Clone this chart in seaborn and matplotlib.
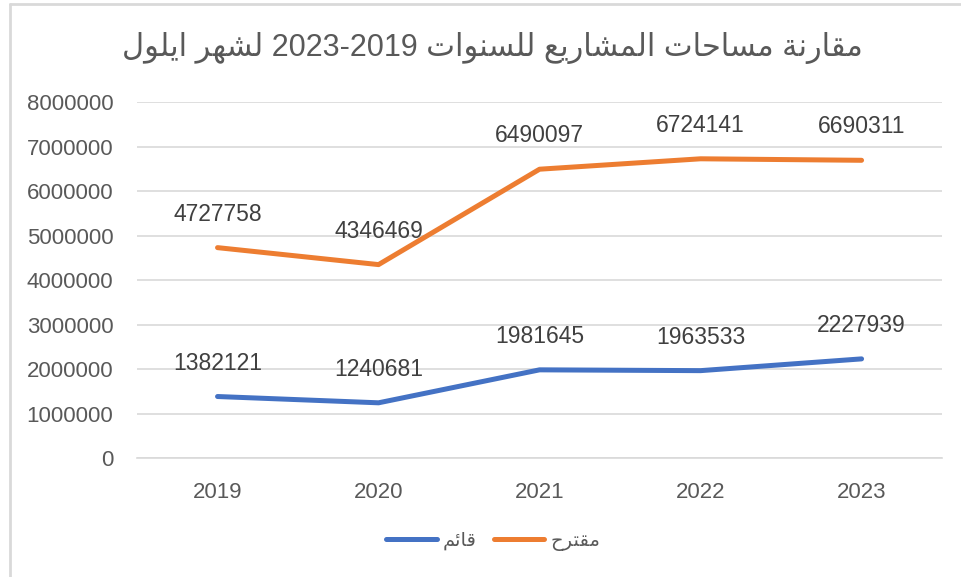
import matplotlib
matplotlib.use("Agg")
import matplotlib.pyplot as plt
import pandas as pd
import seaborn as sns
from matplotlib.lines import Line2D

# ==============================
# data
# ==============================
years = ["2019", "2020", "2021", "2022", "2023"]
existing = [1382121, 1240681, 1981645, 1963533, 2227939]
proposed = [4727758, 4346469, 6490097, 6724141, 6690311]
series_names = ["قائم", "مقترح"]
title_text = "مقارنة مساحات المشاريع للسنوات 2019-2023 لشهر ايلول"
y_ticks = [0, 1000000, 2000000, 3000000, 4000000, 5000000, 6000000, 7000000, 8000000]

# ==============================
# tiny arabic shaping (matplotlib has no bidi / shaping)
# forms: isolated, final, initial, medial
# ==============================
FORMS = {
    "ا": ("\uFE8D", "\uFE8E", None, None),
    "ة": ("\uFE93", "\uFE94", None, None),
    "ر": ("\uFEAD", "\uFEAE", None, None),
    "و": ("\uFEED", "\uFEEE", None, None),
    "ت": ("\uFE95", "\uFE96", "\uFE97", "\uFE98"),
    "ح": ("\uFEA1", "\uFEA2", "\uFEA3", "\uFEA4"),
    "س": ("\uFEB1", "\uFEB2", "\uFEB3", "\uFEB4"),
    "ش": ("\uFEB5", "\uFEB6", "\uFEB7", "\uFEB8"),
    "ع": ("\uFEC9", "\uFECA", "\uFECB", "\uFECC"),
    "ق": ("\uFED5", "\uFED6", "\uFED7", "\uFED8"),
    "ل": ("\uFEDD", "\uFEDE", "\uFEDF", "\uFEE0"),
    "م": ("\uFEE1", "\uFEE2", "\uFEE3", "\uFEE4"),
    "ن": ("\uFEE5", "\uFEE6", "\uFEE7", "\uFEE8"),
    "ه": ("\uFEE9", "\uFEEA", "\uFEEB", "\uFEEC"),
    "ي": ("\uFEF1", "\uFEF2", "\uFEF3", "\uFEF4"),
    "ئ": ("\uFE89", "\uFE8A", "\uFE8B", "\uFE8C"),
}


def dual(ch):
    return ch in FORMS and FORMS[ch][2] is not None


def shape_word(word):
    out = []
    for i, ch in enumerate(word):
        if ch not in FORMS:
            out.append(ch)
            continue
        prev_j = i > 0 and dual(word[i - 1])
        next_j = dual(ch) and i < len(word) - 1 and word[i + 1] in FORMS
        iso, fin, ini, med = FORMS[ch]
        if prev_j and next_j:
            out.append(med)
        elif prev_j:
            out.append(fin)
        elif next_j:
            out.append(ini)
        else:
            out.append(iso)
    return "".join(reversed(out))


def rtl(text):
    tokens = []
    for tok in text.split(" "):
        if any(c in FORMS for c in tok):
            tokens.append(shape_word(tok))
        else:
            # number ranges show reversed in the rtl title
            tokens.append("-".join(reversed(tok.split("-"))))
    return " ".join(reversed(tokens))


# ==============================
# frame
# ==============================
df = pd.DataFrame({
    "year": years * 2,
    "value": existing + proposed,
    "series": [rtl(series_names[0])] * 5 + [rtl(series_names[1])] * 5,
})

sns.set_theme(style="white")
plt.rcParams["font.family"] = ["Liberation Sans", "DejaVu Sans"]

fig = plt.figure(figsize=(9.61, 5.77), dpi=100)
ax = fig.add_axes([0.1426, 0.2062, 0.8377, 0.617])

colors = ["#4472C4", "#ED7D31"]
sns.lineplot(data=df, x="year", y="value", hue="series", palette=colors,
             sort=False, linewidth=3.6, ax=ax, legend=False,
             solid_capstyle="round")

# data labels
for vals in [existing, proposed]:
    for i, v in enumerate(vals):
        ax.annotate(str(v), (i, v), xytext=(0, 24), textcoords="offset points",
                    ha="center", va="center", fontsize=16.5, color="#404040")

ax.set_xlim(-0.5, 4.5)
ax.set_ylim(0, 8000000)
ax.set_yticks(y_ticks)
ax.set_yticklabels([str(t) for t in y_ticks])
ax.set_xlabel("")
ax.set_ylabel("")
ax.grid(axis="y", color="#D9D9D9", linewidth=1.2)
ax.set_axisbelow(True)
for s in ax.spines.values():
    s.set_visible(False)
ax.spines["bottom"].set_visible(True)
ax.spines["bottom"].set_color("#D9D9D9")
ax.spines["bottom"].set_linewidth(1.2)
ax.tick_params(axis="both", length=0, labelsize=16, labelcolor="#595959")
ax.tick_params(axis="y", pad=17)
ax.tick_params(axis="x", pad=17)

fig.text(0.512, 0.917, rtl(title_text), ha="center", va="center",
         fontsize=22, color="#595959")

handles = [Line2D([], [], color=c, linewidth=3.6, solid_capstyle="round") for c in colors]
fig.legend(handles, [rtl(n) for n in series_names], loc="center",
           bbox_to_anchor=(0.513, 0.062), ncol=2, frameon=False,
           fontsize=14, handlelength=2.6, columnspacing=0.9, handletextpad=0.3,
           labelcolor="#595959")

# chart border
fig.add_artist(Line2D([0.0105, 1.0], [0.993, 0.993], transform=fig.transFigure,
                      color="#D9D9D9", linewidth=2))
fig.add_artist(Line2D([0.0105, 0.0105], [0.0, 0.993], transform=fig.transFigure,
                      color="#D9D9D9", linewidth=2))

fig.savefig("out.png", dpi=100)
